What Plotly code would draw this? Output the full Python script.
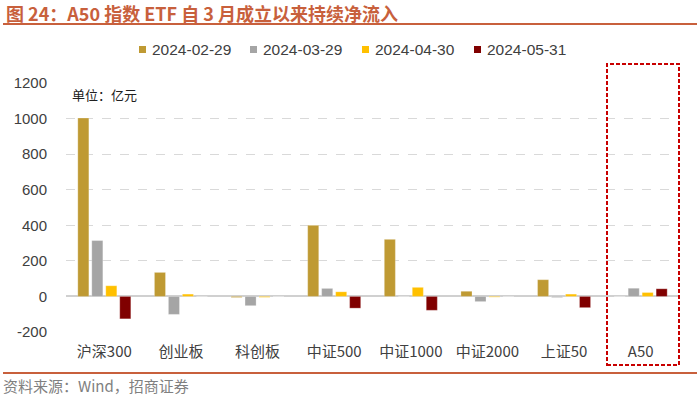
import plotly.graph_objects as go

categories = ["沪深300", "创业板", "科创板", "中证500", "中证1000", "中证2000", "上证50", "A50"]
series_names = ["2024-02-29", "2024-03-29", "2024-04-30", "2024-05-31"]
v_0229 = [1003, 135, -6, 400, 321, 29, 94, 0]
v_0329 = [314, -101, -52, 45, 0, -29, -6, 46]
v_0430 = [60, 13, -5, 26, 51, -4, 13, 22]
v_0531 = [-126, 0, 0, -66, -78, 0, -63, 43]
y_ticks = [-200, 0, 200, 400, 600, 800, 1000, 1200]

colors = ["#BF9A33", "#A5A5A5", "#FFC000", "#800000"]

W, H = 700, 398
L, R, T, B = 66, 679, 83, 332


def px_x(x):
    return (x - L) / (R - L)


def px_y(y):
    return (B - y) / (B - T)


fig = go.Figure()
for name, vals, c in zip(series_names, [v_0229, v_0329, v_0430, v_0531], colors):
    fig.add_trace(go.Bar(x=categories, y=vals, name=name, showlegend=False,
                         marker=dict(color=c, line=dict(color="rgba(255,255,255,0.5)", width=0.5))))

font_main = "Liberation Sans, Noto Sans CJK SC, sans-serif"
font_cjk = "Noto Sans CJK SC, Liberation Sans, sans-serif"

fig.update_layout(
    width=W, height=H,
    margin=dict(l=L, r=W - R, t=T, b=H - B, pad=0),
    paper_bgcolor="white", plot_bgcolor="white",
    barmode="group", bargap=0.27, bargroupgap=0.21,
    showlegend=False,
    font=dict(family=font_main, color="#404040"),
)
fig.update_yaxes(range=[-200, 1200], tickvals=y_ticks, ticktext=[str(v) for v in y_ticks],
                 showgrid=True, gridcolor="#D9D9D9", griddash="dash", gridwidth=1,
                 zeroline=True, zerolinecolor="#D0D0D0", zerolinewidth=1.5,
                 showline=False, ticks="", ticklabelstandoff=18,
                 tickfont=dict(family=font_main, size=15, color="#404040"))
fig.update_xaxes(showgrid=False, showline=False, ticks="", ticklabelstandoff=9,
                 tickfont=dict(family=font_cjk, size=15, color="#404040"))

# legend (drawn manually to match the compact square markers)
legend_text_x = [151, 262, 374, 486]
for name, c, tx in zip(series_names, colors, legend_text_x):
    fig.add_shape(type="rect", xref="paper", yref="paper",
                  x0=px_x(tx - 12), x1=px_x(tx - 5), y0=px_y(53), y1=px_y(46),
                  line=dict(width=0), fillcolor=c)
    fig.add_annotation(text=name, xref="paper", yref="paper", x=px_x(tx - 1), y=px_y(50),
                       xanchor="left", yanchor="middle", showarrow=False,
                       font=dict(family=font_main, size=15.5, color="#404040"))

# title
fig.add_annotation(text="<b>图 24：A50 指数 ETF 自 3 月成立以来持续净流入</b>",
                   xref="paper", yref="paper", x=px_x(4), y=px_y(13), xanchor="left", yanchor="middle",
                   showarrow=False, font=dict(family=font_cjk, size=18, color="#C8603C"))
fig.add_shape(type="line", xref="paper", yref="paper", x0=px_x(3), x1=px_x(697), y0=px_y(24), y1=px_y(24),
              line=dict(color="#C8603C", width=2))
# bottom line
fig.add_shape(type="line", xref="paper", yref="paper", x0=px_x(3), x1=px_x(697), y0=px_y(373), y1=px_y(373),
              line=dict(color="#C8603C", width=2))
# source
fig.add_annotation(text="资料来源：Wind，招商证券",
                   xref="paper", yref="paper", x=px_x(1), y=px_y(385), xanchor="left", yanchor="middle",
                   showarrow=False, font=dict(family=font_cjk, size=15, color="#808080"))
# unit
fig.add_annotation(text="单位：亿元",
                   xref="paper", yref="paper", x=px_x(70), y=px_y(94), xanchor="left", yanchor="middle",
                   showarrow=False, font=dict(family=font_cjk, size=13, color="#202020"))
# dashed highlight box
fig.add_shape(type="rect", xref="paper", yref="paper", x0=px_x(607), x1=px_x(679), y0=px_y(365), y1=px_y(64),
              line=dict(color="#C80000", width=2, dash="4px,2px"), fillcolor="rgba(0,0,0,0)")

fig.write_html("out.html", config={"displayModeBar": False},
               post_script="document.body.style.margin='0';")
